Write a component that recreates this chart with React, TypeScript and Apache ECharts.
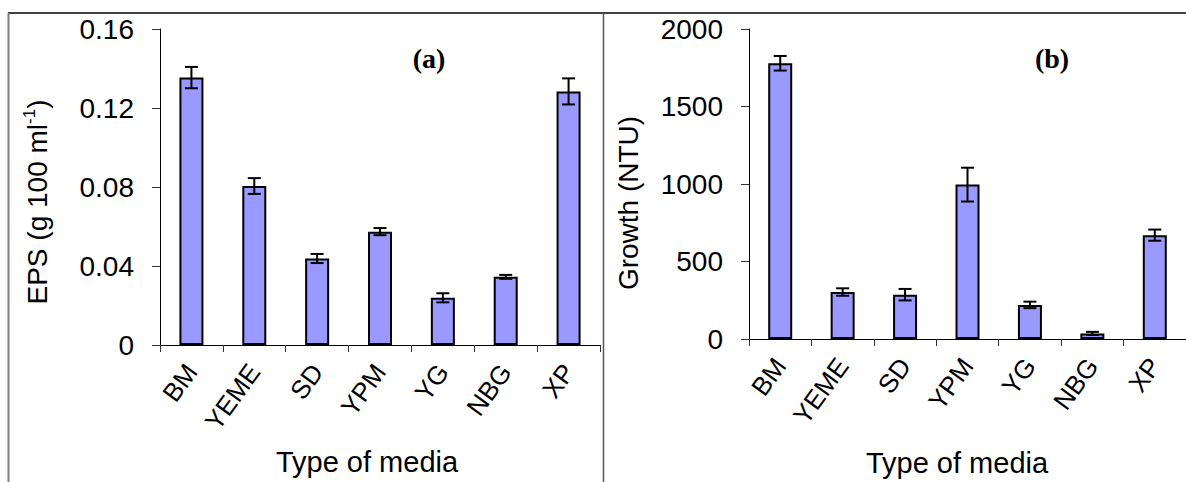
import React, { useEffect, useRef } from "react";
import * as echarts from "echarts";

const categories = ["BM", "YEME", "SD", "YPM", "YG", "NBG", "XP"];

const epsMeans = [0.1354, 0.0805, 0.0438, 0.0574, 0.0239, 0.0345, 0.1284];
const epsErrors = [0.0054, 0.004, 0.0023, 0.0018, 0.0023, 0.001, 0.0066];

const growthMeans = [1779, 303, 286, 996, 220, 36, 670];
const growthErrors = [47, 24, 37, 109, 21, 10, 36];

const epsTicks = [0, 0.04, 0.08, 0.12, 0.16];
const growthTicks = [0, 500, 1000, 1500, 2000];

const SANS = "'Liberation Sans', Arial, sans-serif";
const SERIF = "'Liberation Serif', 'Times New Roman', serif";

function errorRenderer(params: any, api: any) {
  const x = api.value(0);
  const v = api.value(1);
  const e = api.value(2);
  const top = api.coord([x, v + e]);
  const bot = api.coord([x, v - e]);
  const hw = 6.5;
  const st = { stroke: "#000", lineWidth: 2 };
  return {
    type: "group",
    children: [
      { type: "line", shape: { x1: top[0], y1: top[1], x2: bot[0], y2: bot[1] }, style: st },
      { type: "line", shape: { x1: top[0] - hw, y1: top[1], x2: top[0] + hw, y2: top[1] }, style: st },
      { type: "line", shape: { x1: bot[0] - hw, y1: bot[1], x2: bot[0] + hw, y2: bot[1] }, style: st },
    ],
  };
}

function xAxisCfg(grid: number, gap: number, shift: number) {
  return {
    gridIndex: grid,
    type: "category",
    data: categories,
    axisLine: { lineStyle: { color: "#000", width: 1 } },
    axisTick: { show: true, length: 7, lineStyle: { color: "#333" } },
    axisLabel: {
      rotate: 54,
      interval: 0,
      fontSize: 26,
      color: "#000",
      margin: 22,
      fontFamily: SANS,
    },
    name: "Type of media",
    nameLocation: "middle",
    nameGap: gap,
    nameTextStyle: { fontSize: 29, color: "#000", fontFamily: SANS, padding: [0, shift, 0, 0] },
  };
}

function yAxisCfg(grid: number, ticks: number[], name: string, rich: any, shift: number) {
  return {
    gridIndex: grid,
    type: "value",
    min: ticks[0],
    max: ticks[ticks.length - 1],
    interval: ticks[1] - ticks[0],
    axisLine: { show: true, lineStyle: { color: "#000", width: 1 } },
    axisTick: { show: true, length: 8, lineStyle: { color: "#333" } },
    splitLine: { show: false },
    axisLabel: {
      fontSize: 28,
      color: "#000",
      margin: 26,
      fontFamily: SANS,
      formatter: (v: number) => String(Math.round(v * 10000) / 10000),
    },
    name,
    nameLocation: "middle",
    nameGap: 107,
    nameTextStyle: {
      fontSize: 28,
      color: "#000",
      fontFamily: SANS,
      padding: [0, shift, 0, 0],
      rich,
    },
  };
}

export default function App() {
  const ref = useRef<HTMLDivElement>(null);

  useEffect(() => {
    if (!ref.current) return;
    const chart = echarts.init(ref.current, null, { renderer: "svg" });
    const option: any = {
      animation: false,
      backgroundColor: "#fff",
      grid: [
        { left: 160, top: 29, width: 440, height: 316 },
        { left: 749, top: 29, width: 445, height: 312 },
      ],
      xAxis: [xAxisCfg(0, 102, 26), xAxisCfg(1, 109, 21)],
      yAxis: [
        yAxisCfg(
          0,
          epsTicks,
          "{n|EPS (g 100 ml}{s|-1}{n|)}",
          {
            n: { fontSize: 28, color: "#000", fontFamily: SANS, lineHeight: 32 },
            s: { fontSize: 17, color: "#000", fontFamily: SANS, verticalAlign: "top", lineHeight: 32 },
          },
          30
        ),
        yAxisCfg(1, growthTicks, "Growth (NTU)", undefined, 38),
      ],
      series: [
        {
          type: "bar",
          xAxisIndex: 0,
          yAxisIndex: 0,
          data: epsMeans,
          barWidth: 24,
          itemStyle: { color: "#9999FF", borderColor: "#000", borderWidth: 2 },
        },
        {
          type: "custom",
          xAxisIndex: 0,
          yAxisIndex: 0,
          data: epsMeans.map((v, i) => [i, v, epsErrors[i]]),
          encode: { x: 0, y: 1 },
          renderItem: errorRenderer,
          z: 5,
        },
        {
          type: "bar",
          xAxisIndex: 1,
          yAxisIndex: 1,
          data: growthMeans,
          barWidth: 24,
          itemStyle: { color: "#9999FF", borderColor: "#000", borderWidth: 2 },
        },
        {
          type: "custom",
          xAxisIndex: 1,
          yAxisIndex: 1,
          data: growthMeans.map((v, i) => [i, v, growthErrors[i]]),
          encode: { x: 0, y: 1 },
          renderItem: errorRenderer,
          z: 5,
        },
      ],
      graphic: [
        { type: "line", shape: { x1: 8, y1: 13, x2: 1186, y2: 13 }, style: { stroke: "#000", lineWidth: 1.5 } },
        { type: "line", shape: { x1: 8.5, y1: 13, x2: 8.5, y2: 482 }, style: { stroke: "#808080", lineWidth: 2 } },
        { type: "line", shape: { x1: 603.5, y1: 13, x2: 603.5, y2: 482 }, style: { stroke: "#555", lineWidth: 1.5 } },
        {
          type: "text",
          x: 429,
          y: 58,
          style: { text: "(a)", fontSize: 28, fontWeight: "bold", fontFamily: SERIF, fill: "#000", align: "center", verticalAlign: "middle" },
        },
        {
          type: "text",
          x: 1052,
          y: 58,
          style: { text: "(b)", fontSize: 28, fontWeight: "bold", fontFamily: SERIF, fill: "#000", align: "center", verticalAlign: "middle" },
        },
      ],
    };
    chart.setOption(option);
    return () => chart.dispose();
  }, []);

  return (
    <div
      ref={ref}
      style={{ position: "fixed", left: 0, top: 0, width: 1186, height: 482, background: "#fff" }}
    />
  );
}
